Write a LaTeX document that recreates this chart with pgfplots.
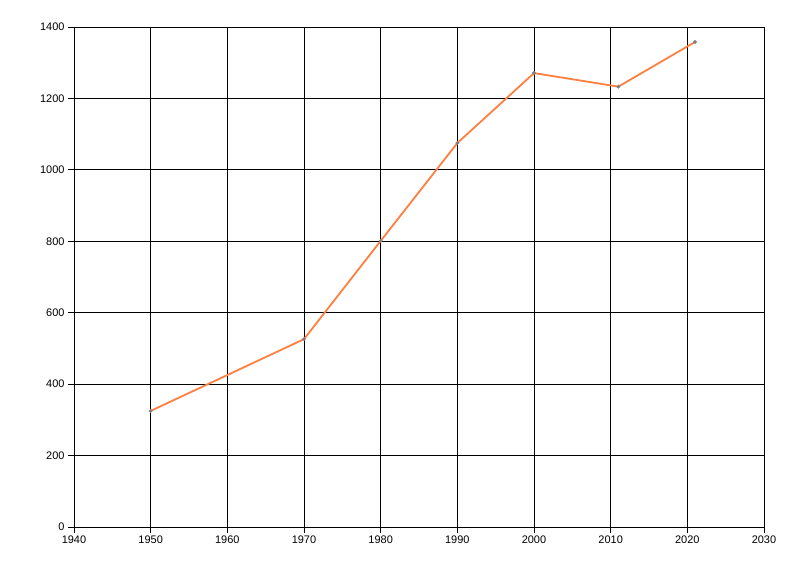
\documentclass[border=0pt]{standalone}
\usepackage{fontspec}
\setmainfont{Liberation Sans}
\usepackage{pgfplots}
\pgfplotsset{compat=1.18}
\definecolor{lineorange}{RGB}{255,127,64}
\begin{document}
\begin{tikzpicture}
\begin{axis}[
  at={(0,0)}, anchor=south west,
  scale only axis,
  width=690bp, height=500bp,
  xmin=1940, xmax=2030,
  ymin=0, ymax=1400,
  xtick={1940,1950,...,2030},
  ytick={0,200,...,1400},
  axis x line=bottom,
  axis y line=left,
  axis line style={-, black, line width=0.8bp},
  tick align=outside,
  major tick length=6bp,
  tick style={black, line width=0.8bp},
  grid=major,
  major grid style={black, line width=0.8bp},
  /pgf/number format/assume math mode=true,
  /pgf/number format/1000 sep={},
  tick label style={font=\fontsize{11}{13}\selectfont},
  xticklabel style={yshift=1bp},
  clip=false,
]
\addplot[lineorange, line width=1.8bp, mark=*, mark size=0.8bp,
  mark options={fill=gray, draw=gray}] coordinates {
  (1950,325) (1970,526) (1980,801) (1990,1075)
  (2000,1271) (2011,1233) (2021,1358)
};
\end{axis}
\path[use as bounding box] (-74bp,-49bp) rectangle (726bp,527bp);
\end{tikzpicture}
\end{document}
